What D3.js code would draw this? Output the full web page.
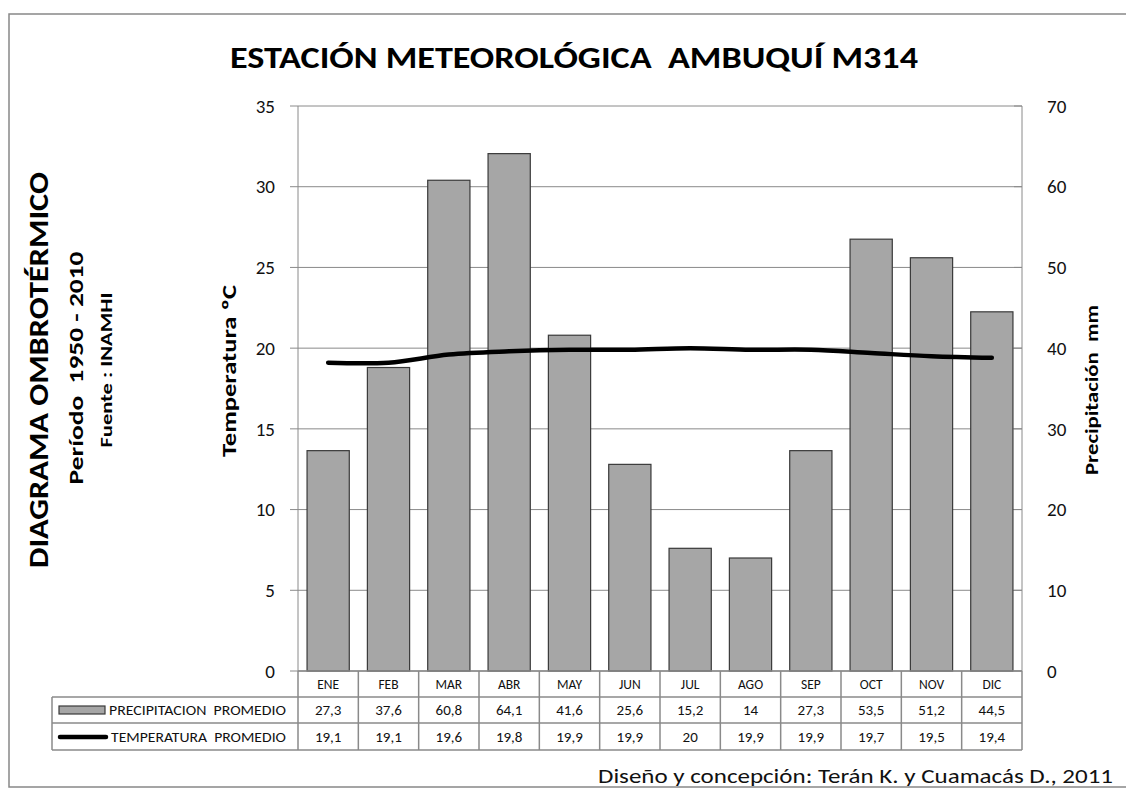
<!DOCTYPE html>
<html>
<head>
<meta charset="utf-8">
<script src="https://cdn.jsdelivr.net/npm/d3@7"></script>
<style>
  body { margin: 0; background: #fff; }
  svg { display: block; font-family: Carlito, Lato, sans-serif; }
  text { white-space: pre; }
</style>
</head>
<body>
<div id="chart"></div>
<script>
// datos de la estacion
const meses = ['ENE','FEB','MAR','ABR','MAY','JUN','JUL','AGO','SEP','OCT','NOV','DIC'];
const precipitacion = [27.3, 37.6, 60.8, 64.1, 41.6, 25.6, 15.2, 14, 27.3, 53.5, 51.2, 44.5];
const temperatura = [19.1, 19.1, 19.6, 19.8, 19.9, 19.9, 20, 19.9, 19.9, 19.7, 19.5, 19.4];
const ticksTemp = [0, 5, 10, 15, 20, 25, 30, 35];
const ticksPrec = [0, 10, 20, 30, 40, 50, 60, 70];
const serieNombres = ['PRECIPITACION  PROMEDIO', 'TEMPERATURA  PROMEDIO'];

const W = 1126, H = 790;
const m = { left: 298, right: 1022, top: 106, bottom: 671 };
const rowH = [671, 697, 723, 750];
const tableLeft = 52;
const gridColor = '#8a8a8a';

const svg = d3.select('#chart').append('svg')
    .attr('width', W).attr('height', H);

const x = d3.scaleBand().domain(meses).range([m.left, m.right]).paddingInner(0.3).paddingOuter(0.15);
const xb = d3.scaleBand().domain(meses).range([m.left, m.right]);
const yT = d3.scaleLinear().domain([0, 35]).range([m.bottom, m.top]);
const yP = d3.scaleLinear().domain([0, 70]).range([m.bottom, m.top]);

// lineas de cuadricula
svg.append('g').selectAll('line').data(ticksTemp).join('line')
    .attr('x1', m.left - 8).attr('x2', m.right)
    .attr('y1', d => yT(d)).attr('y2', d => yT(d))
    .attr('stroke', gridColor).attr('stroke-width', 1);

// eje izquierdo
svg.append('line').attr('x1', m.left).attr('x2', m.left)
    .attr('y1', m.top).attr('y2', m.bottom).attr('stroke', gridColor);
svg.append('g').selectAll('text').data(ticksTemp).join('text')
    .attr('x', 275).attr('y', d => yT(d)).attr('dy', '0.35em')
    .attr('text-anchor', 'end').attr('font-size', 19).attr('fill', '#111')
    .text(d => d);

// eje derecho
svg.append('line').attr('x1', m.right).attr('x2', m.right)
    .attr('y1', m.top).attr('y2', m.bottom).attr('stroke', gridColor);
svg.append('g').selectAll('line').data(ticksPrec).join('line')
    .attr('x1', m.right - 8).attr('x2', m.right)
    .attr('y1', d => yP(d)).attr('y2', d => yP(d))
    .attr('stroke', gridColor);
svg.append('g').selectAll('text').data(ticksPrec).join('text')
    .attr('x', 1047).attr('y', d => yP(d)).attr('dy', '0.35em')
    .attr('text-anchor', 'start').attr('font-size', 19).attr('fill', '#111')
    .text(d => d);

// barras de precipitacion
svg.append('g').selectAll('rect').data(precipitacion).join('rect')
    .attr('x', (d, i) => x(meses[i]))
    .attr('width', x.bandwidth())
    .attr('y', d => yP(d))
    .attr('height', d => yP(0) - yP(d))
    .attr('fill', '#a6a6a6').attr('stroke', '#3a3a3a').attr('stroke-width', 1.2);

// linea de temperatura
const line = d3.line()
    .x((d, i) => xb(meses[i]) + xb.bandwidth() / 2)
    .y(d => yT(d))
    .curve(d3.curveCatmullRom);
svg.append('path').datum(temperatura)
    .attr('d', line).attr('fill', 'none')
    .attr('stroke', '#000').attr('stroke-width', 4.5)
    .attr('stroke-linecap', 'round').attr('stroke-linejoin', 'round');

// tabla de datos
const tabla = svg.append('g').attr('stroke', gridColor).attr('stroke-width', 1.5);
tabla.append('line').attr('x1', m.left).attr('x2', m.right).attr('y1', rowH[0]).attr('y2', rowH[0]);
rowH.slice(1).forEach(y => {
    tabla.append('line').attr('x1', tableLeft).attr('x2', m.right).attr('y1', y).attr('y2', y);
});
tabla.append('line').attr('x1', tableLeft).attr('x2', tableLeft).attr('y1', rowH[1]).attr('y2', rowH[3]);
tabla.selectAll('.vl').data(meses.concat(['fin'])).join('line')
    .attr('x1', (d, i) => m.left + i * xb.step()).attr('x2', (d, i) => m.left + i * xb.step())
    .attr('y1', rowH[0]).attr('y2', rowH[3]);

const celdas = svg.append('g').attr('text-anchor', 'middle').attr('fill', '#111');
celdas.selectAll('.mes').data(meses).join('text')
    .attr('x', d => xb(d) + xb.bandwidth() / 2).attr('y', (rowH[0] + rowH[1]) / 2).attr('dy', '0.35em')
    .attr('font-size', 13.5).text(d => d);
celdas.selectAll('.pp').data(precipitacion).join('text')
    .attr('x', (d, i) => xb(meses[i]) + xb.bandwidth() / 2).attr('y', (rowH[1] + rowH[2]) / 2).attr('dy', '0.35em')
    .attr('font-size', 15).text(d => String(d).replace('.', ','));
celdas.selectAll('.tt').data(temperatura).join('text')
    .attr('x', (d, i) => xb(meses[i]) + xb.bandwidth() / 2).attr('y', (rowH[2] + rowH[3]) / 2).attr('dy', '0.35em')
    .attr('font-size', 15).text(d => String(d).replace('.', ','));

// leyenda dentro de la tabla
svg.append('rect').attr('x', 59).attr('y', 706).attr('width', 46).attr('height', 8)
    .attr('fill', '#a6a6a6').attr('stroke', '#3a3a3a').attr('stroke-width', 1.2);
svg.append('line').attr('x1', 60).attr('x2', 106).attr('y1', 737).attr('y2', 737)
    .attr('stroke', '#000').attr('stroke-width', 4.5).attr('stroke-linecap', 'round');
svg.append('text').attr('x', 109).attr('y', (rowH[1] + rowH[2]) / 2).attr('dy', '0.35em')
    .attr('font-size', 14.5).attr('textLength', 177).attr('lengthAdjust', 'spacingAndGlyphs')
    .attr('fill', '#111').text(serieNombres[0]);
svg.append('text').attr('x', 111).attr('y', (rowH[2] + rowH[3]) / 2).attr('dy', '0.35em')
    .attr('font-size', 14.5).attr('textLength', 175).attr('lengthAdjust', 'spacingAndGlyphs')
    .attr('fill', '#111').text(serieNombres[1]);

// titulos
svg.append('text').attr('x', 574).attr('y', 68).attr('text-anchor', 'middle')
    .attr('font-size', 30).attr('font-weight', 'bold').attr('textLength', 688)
    .attr('lengthAdjust', 'spacingAndGlyphs').text('ESTACIÓN METEOROLÓGICA  AMBUQUÍ M314');

function vertical(txt, bx, cy, size, len) {
    svg.append('text')
        .attr('transform', `translate(${bx},${cy}) rotate(-90)`)
        .attr('text-anchor', 'middle').attr('font-size', size).attr('font-weight', 'bold')
        .attr('textLength', len).attr('lengthAdjust', 'spacingAndGlyphs')
        .attr('fill', '#000').text(txt);
}
vertical('DIAGRAMA OMBROTÉRMICO', 48, 370, 28, 396);
vertical('Período  1950 - 2010', 83, 368, 21, 233);
vertical('Fuente : INAMHI', 112, 370, 15, 155);
vertical('Temperatura ºC', 236, 371, 20, 172);
vertical('Precipitación  mm', 1098, 390, 17, 170);

// credito
svg.append('text').attr('x', 598).attr('y', 783)
    .attr('font-size', 20).attr('textLength', 515).attr('lengthAdjust', 'spacingAndGlyphs')
    .attr('fill', '#111').text('Diseño y concepción: Terán K. y Cuamacás D., 2011');

// marco exterior
svg.append('path')
    .attr('d', `M${W + 2},14 H9 V787 H${W + 2}`)
    .attr('fill', 'none').attr('stroke', '#888').attr('stroke-width', 1.5);
</script>
</body>
</html>
